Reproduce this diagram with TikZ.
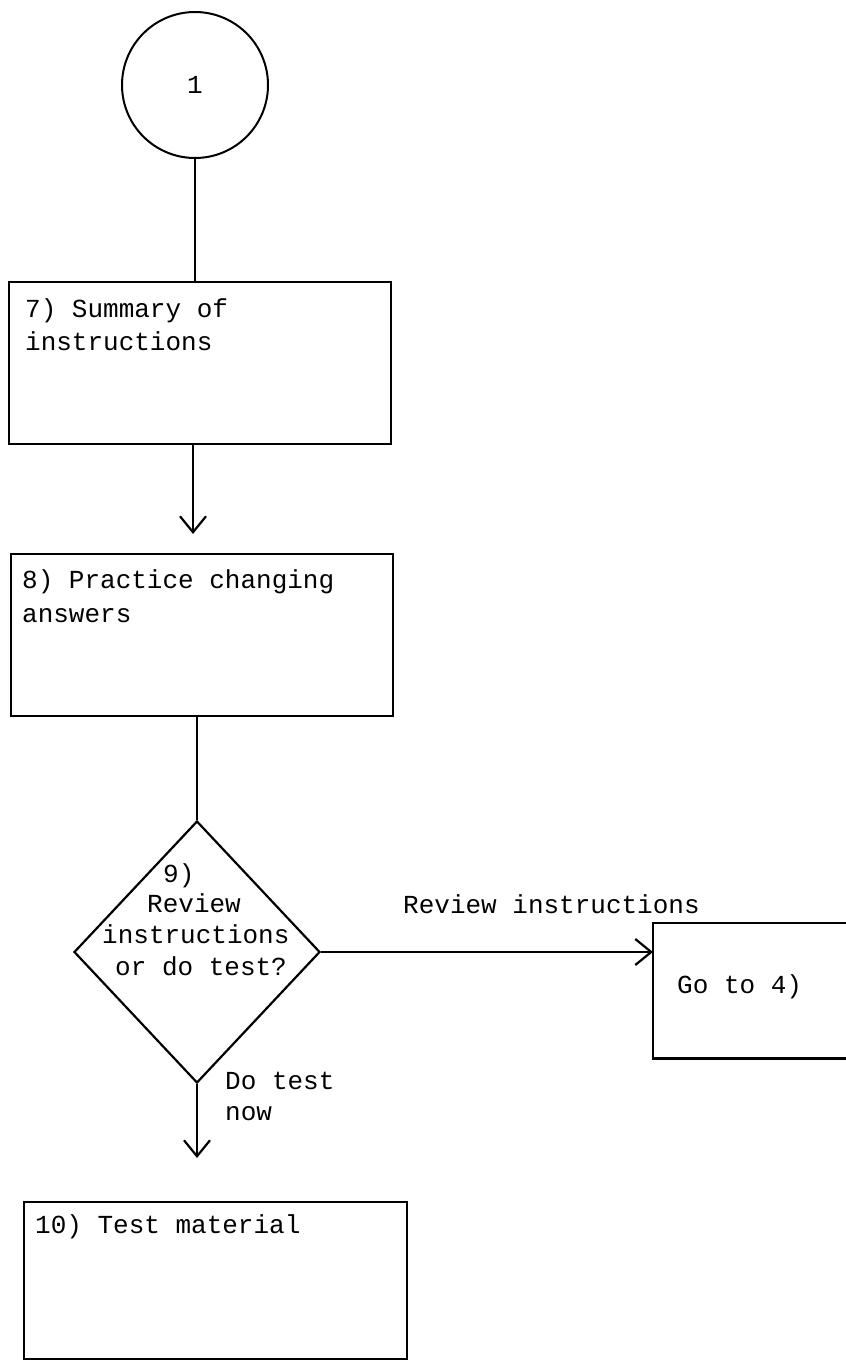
\documentclass[tikz,border=0pt]{standalone}
\usepackage{fontspec}
\setmonofont{Liberation Mono}
\usetikzlibrary{shapes.geometric,arrows.meta}
\begin{document}
\begin{tikzpicture}[x=1pt,y=-1pt,
  txt/.style={font=\ttfamily\fontsize{26}{33}\selectfont,inner sep=0pt,anchor=base west},
  stepbox/.style={draw,line width=2.2pt,rectangle,inner sep=0pt,anchor=north west},
  wire/.style={line width=2.2pt},
  flow/.style={wire,-{Straight Barb[length=16pt,width=26pt,line width=2.2pt]}}
]
\useasboundingbox (0,0) rectangle (846,1361);

% connector circle
\node[draw,circle,line width=2pt,minimum size=146pt,inner sep=0pt,
      font=\ttfamily\fontsize{26}{33}\selectfont] (c1) at (195,85) {1};

% step 7
\node[stepbox,minimum width=382pt,minimum height=162pt] (s7) at (8,281) {};
\node[txt] (t7a) at (25,317) {7) Summary of};
\node[txt] (t7b) at (25,350) {instructions};

% step 8
\node[stepbox,minimum width=382pt,minimum height=162pt] (s8) at (10,553) {};
\node[txt] (t8a) at (22,588) {8) Practice changing};
\node[txt] (t8b) at (22,622) {answers};

% step 9: decision
\node[draw,diamond,line width=2.2pt,minimum width=246pt,minimum height=262pt,
      aspect=0.94,inner sep=0pt] (d9) at (197,952) {};
\node[txt] (t9a) at (163,882) {9)};
\node[txt] (t9b) at (147,912) {Review};
\node[txt] (t9c) at (102,943) {instructions};
\node[txt] (t9d) at (115,975) {or do test?};

% branch target
\node[inner sep=0pt,anchor=north west,minimum width=193pt,minimum height=135pt] (go) at (653,923) {};
\node[txt] (tgo) at (677,993) {Go to 4)};

% step 10
\node[stepbox,minimum width=383pt,minimum height=157pt] (s10) at (23,1201) {};
\node[txt] (t10) at (35,1233) {10) Test material};

% branch labels
\node[txt] (lrev) at (403,913) {Review instructions};
\node[txt] (ldo1) at (225,1089) {Do test};
\node[txt] (ldo2) at (225,1120) {now};

% connectors
\draw[wire] (c1.south) -- (c1.south |- s7.north);
\draw[flow,shorten >=19pt] (193,0 |- s7.south) -- (193,0 |- s8.north);
\draw[wire] (d9.north |- s8.south) -- (d9.north);
\draw[flow] (d9.east) -- (d9.east -| go.west);
\draw[flow,shorten >=43pt] (d9.south) -- (d9.south |- s10.north);
\draw[wire] (go.north east) -- (go.north west) -- (go.south west) -- (go.south east);
\end{tikzpicture}
\end{document}
